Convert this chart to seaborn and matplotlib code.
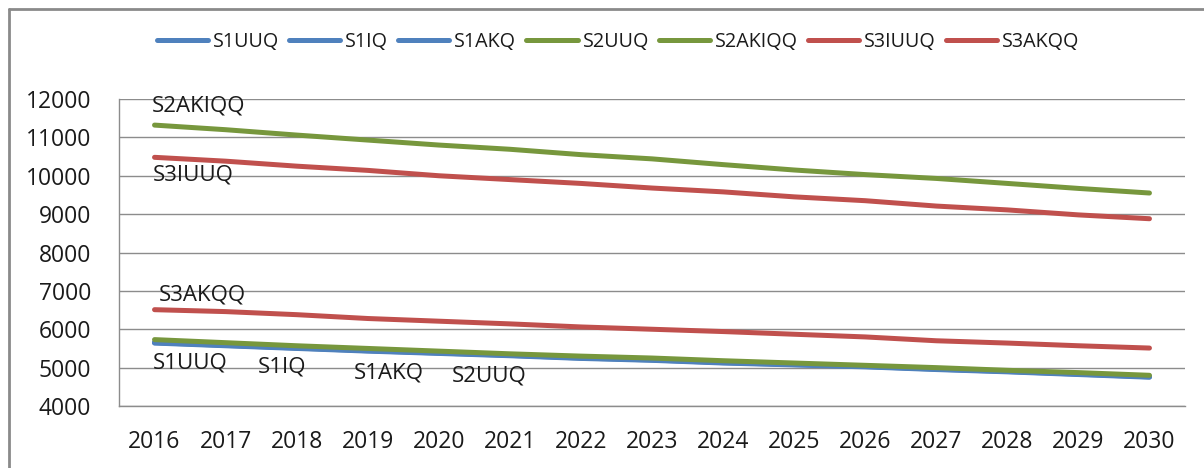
import numpy as np
import pandas as pd
import seaborn as sns
import matplotlib
matplotlib.use("Agg")
import matplotlib.pyplot as plt
from matplotlib.lines import Line2D

# ---- data ----
years = [2016, 2017, 2018, 2019, 2020, 2021, 2022, 2023, 2024, 2025, 2026, 2027, 2028, 2029, 2030]
series_names = ["S1UUQ", "S1IQ", "S1AKQ", "S2UUQ", "S2AKIQQ", "S3IUUQ", "S3AKQQ"]

s1uuq = [5640, 5570, 5500, 5430, 5370, 5310, 5240, 5190, 5120, 5070, 5020, 4950, 4890, 4820, 4750]
s1iq = [5650, 5580, 5510, 5440, 5380, 5320, 5250, 5200, 5130, 5080, 5030, 4960, 4900, 4830, 4760]
s1akq = [5660, 5590, 5520, 5450, 5390, 5330, 5260, 5210, 5140, 5090, 5040, 4970, 4910, 4840, 4770]
s2uuq = [5730, 5650, 5570, 5500, 5430, 5360, 5300, 5250, 5180, 5120, 5060, 5000, 4930, 4870, 4800]
s2akiqq = [11320, 11200, 11060, 10930, 10800, 10690, 10550, 10440, 10290, 10150, 10030, 9930, 9800, 9670, 9550]
s3iuuq = [10480, 10380, 10250, 10140, 10000, 9900, 9800, 9680, 9580, 9450, 9350, 9210, 9110, 8980, 8880]
s3akqq = [6510, 6460, 6380, 6280, 6210, 6140, 6060, 6000, 5940, 5870, 5800, 5700, 5640, 5570, 5510]

values = [s1uuq, s1iq, s1akq, s2uuq, s2akiqq, s3iuuq, s3akqq]

# series-name labels placed next to the lines: (text, category position, y value)
label_text = ["S2AKIQQ", "S3IUUQ", "S3AKQQ", "S1UUQ", "S1IQ", "S1AKQ", "S2UUQ"]
label_x = [-0.04, -0.03, 0.06, -0.02, 1.45, 2.81, 4.19]
label_y = [11820, 10020, 6900, 5120, 5020, 4870, 4790]

y_ticks = [4000, 5000, 6000, 7000, 8000, 9000, 10000, 11000, 12000]

# ---- styling ----
BLUE = "#4F81BD"
GREEN = "#77973D"
RED = "#C0504D"
colors = [BLUE, BLUE, BLUE, GREEN, GREEN, RED, RED]
GRID = "#8C8C8C"
TEXT = "#1A1A1A"

sns.set_theme(style="white")
plt.rcParams["font.family"] = ["Open Sans", "DejaVu Sans"]

rows = []
for name, vals in zip(series_names, values):
    for i, v in enumerate(vals):
        rows.append({"series": name, "idx": i, "value": v})
df = pd.DataFrame(rows)

fig = plt.figure(figsize=(12.04, 4.68), dpi=100)
ax = fig.add_axes([119 / 1204, 1 - 406 / 468, (1185 - 119) / 1204, (406 - 99) / 468])

palette = dict(zip(series_names, colors))
sns.lineplot(data=df, x="idx", y="value", hue="series", hue_order=series_names,
             palette=palette, linewidth=3.6, ax=ax, legend=False, sort=True)
for ln in ax.get_lines():
    ln.set_solid_capstyle("round")

ax.set_xlim(-0.5, len(years) - 0.5)
ax.set_ylim(4000, 12000)
ax.set_xlabel("")
ax.set_ylabel("")

# category labels at centres, tick marks on category boundaries
ax.set_xticks(range(len(years)))
ax.set_xticklabels([str(y) for y in years])
ax.set_xticks(np.arange(-0.5, len(years), 1.0), minor=True)
ax.tick_params(axis="x", which="major", length=0, pad=17, labelsize=16.5, labelcolor=TEXT)
ax.tick_params(axis="x", which="minor", length=8, width=1, color=GRID, direction="out")

ax.set_yticks(y_ticks)
ax.set_yticklabels([str(v) for v in y_ticks])
ax.tick_params(axis="y", which="major", length=8, width=1, color=GRID, direction="out",
               pad=12, labelsize=16.5, labelcolor=TEXT)

ax.yaxis.grid(True, color=GRID, linewidth=1)
ax.xaxis.grid(False)
for side in ["top", "right"]:
    ax.spines[side].set_visible(False)
for side in ["left", "bottom"]:
    ax.spines[side].set_color(GRID)
    ax.spines[side].set_linewidth(1)
ax.set_axisbelow(True)

for t, x, y in zip(label_text, label_x, label_y):
    ax.text(x, y, t, fontsize=16, color=TEXT, ha="left", va="center")

# legend across the top
handles = [Line2D([0], [0], color=c, linewidth=3.6, solid_capstyle="round") for c in colors]
fig.legend(handles, series_names, loc="center", bbox_to_anchor=(618 / 1204, 1 - 42 / 468),
           ncol=7, frameon=False, fontsize=14.2, handlelength=2.6, handletextpad=0.25,
           columnspacing=0.5, labelcolor=TEXT)

# outer chart frame (top and left edges)
fig.add_artist(Line2D([9 / 1204, 1.0], [1 - 9 / 468, 1 - 9 / 468], transform=fig.transFigure,
                      color="#8A8A8A", linewidth=2))
fig.add_artist(Line2D([9 / 1204, 9 / 1204], [0.0, 1 - 9 / 468], transform=fig.transFigure,
                      color="#8A8A8A", linewidth=2))

fig.savefig("out.png", dpi=100, facecolor="white")
